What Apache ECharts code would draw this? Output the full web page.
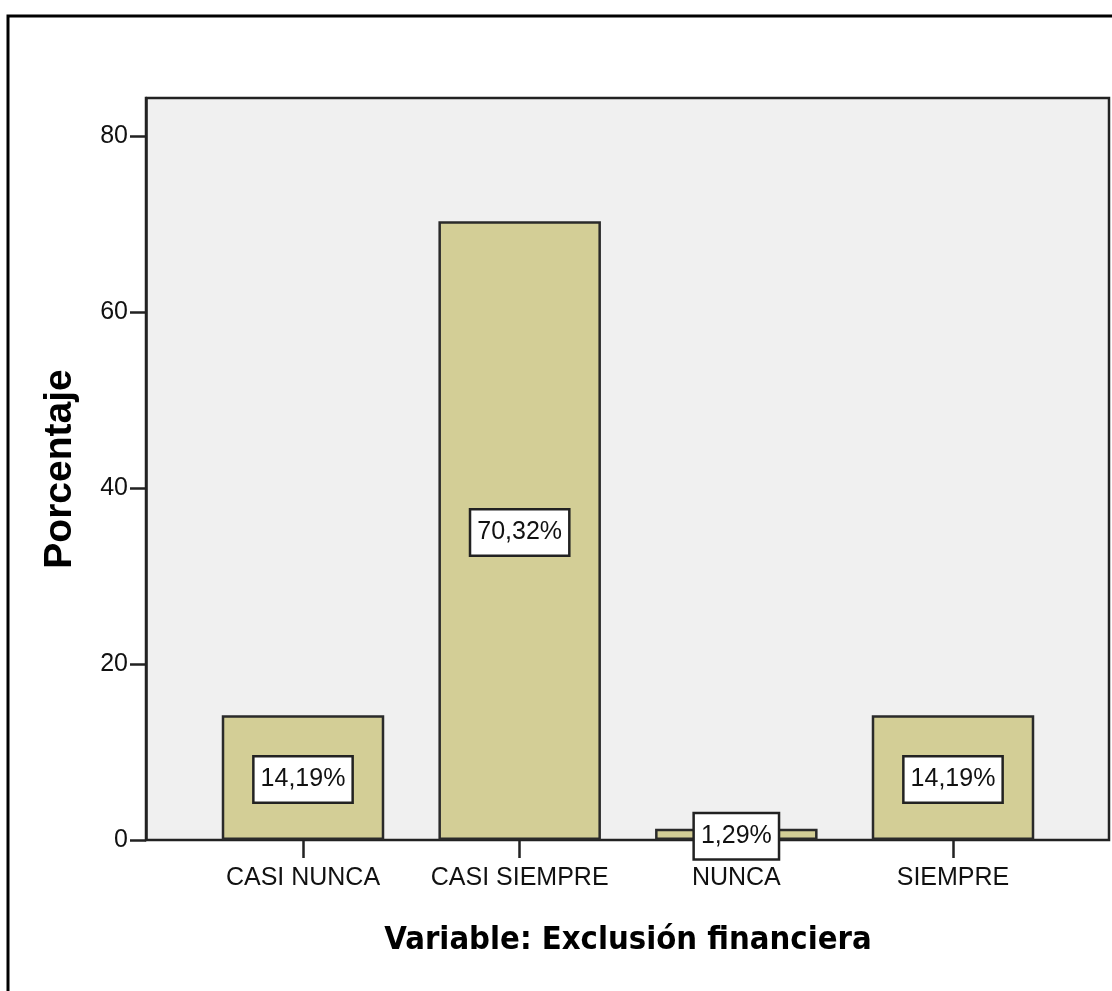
<!DOCTYPE html>
<html>
<head>
<meta charset="utf-8">
<script src="https://cdn.jsdelivr.net/npm/echarts@6/dist/echarts.min.js"></script>
<style>
html,body{margin:0;padding:0;background:#fff;}
#c{width:1112px;height:991px;}
</style>
</head>
<body>
<div id="c"></div>
<script>
var categories = ['CASI NUNCA', 'CASI SIEMPRE', 'NUNCA', 'SIEMPRE'];
var percentages = [14.19, 70.32, 1.29, 14.19];
var yTicks = [0, 20, 40, 60, 80];

var sans = '"Liberation Sans", Arial, sans-serif';
var cond = '"DejaVu Sans Condensed", "DejaVu Sans", sans-serif';
var chart = echarts.init(document.getElementById('c'));
chart.setOption({
  animation: false,
  backgroundColor: '#ffffff',
  graphic: [
    { type: 'rect', z: -10, shape: { x: 8, y: 16, width: 1120, height: 1000 },
      style: { fill: '#ffffff', stroke: '#000', lineWidth: 3 } },
    { type: 'rect', z: -5, shape: { x: 146, y: 98, width: 963, height: 742 },
      style: { fill: '#f0f0f0', stroke: '#222', lineWidth: 2.5 } }
  ],
  grid: { left: 194.67, right: 50.67, top: 98, bottom: 151 },
  xAxis: {
    type: 'category',
    data: categories,
    boundaryGap: true,
    axisLine: { show: false },
    axisTick: { show: true, alignWithLabel: true, length: 18, lineStyle: { color: '#222', width: 2.5 } },
    axisLabel: { color: '#111', fontFamily: sans, fontSize: 25, margin: 26, interval: 0 },
    name: 'Variable: Exclusión financiera',
    nameLocation: 'middle',
    nameGap: 84,
    nameTextStyle: { color: '#000', fontFamily: cond, fontWeight: 'bold', fontSize: 32.5 }
  },
  yAxis: {
    type: 'value',
    min: 0,
    max: 84.32,
    offset: 48.67,
    splitLine: { show: false },
    axisLine: { show: true, lineStyle: { color: '#222', width: 2.5 } },
    axisTick: { show: true, length: 16, customValues: yTicks, lineStyle: { color: '#222', width: 2.5 } },
    axisLabel: { color: '#111', fontFamily: sans, fontSize: 25, margin: 18, customValues: yTicks },
    name: 'Porcentaje',
    nameLocation: 'middle',
    nameGap: 66,
    nameTextStyle: { color: '#000', fontFamily: sans, fontWeight: 'bold', fontSize: 39 }
  },
  series: [{
    type: 'bar',
    data: percentages,
    barWidth: '75%',
    itemStyle: { color: '#d3ce96', borderColor: '#2a2a2a', borderWidth: 2.5 },
    label: {
      show: true,
      position: 'inside',
      offset: [0, 2],
      formatter: function (p) { return p.value.toFixed(2).replace('.', ',') + '%'; },
      color: '#111',
      fontFamily: sans,
      fontSize: 25,
      lineHeight: 31,
      backgroundColor: '#ffffff',
      borderColor: '#222',
      borderWidth: 2.5,
      padding: [7, 6, 6, 6]
    }
  }]
});
</script>
</body>
</html>
